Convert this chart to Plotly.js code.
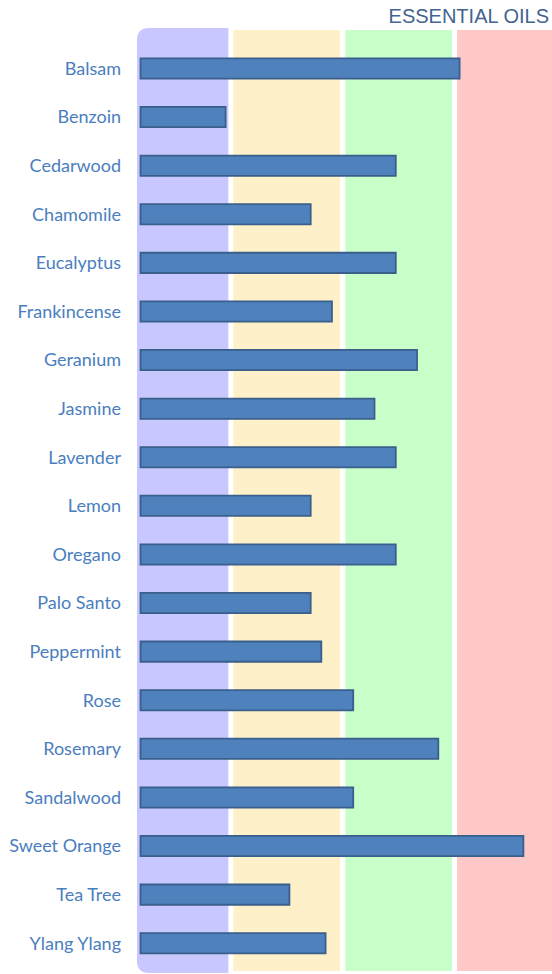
<!DOCTYPE html>
<html>
<head>
<meta charset="utf-8">
<script src="https://cdn.plot.ly/plotly-3.0.1.min.js"></script>
<style>html,body{margin:0;padding:0;background:#fff;}#chart{width:552px;height:974px;}</style>
</head>
<body>
<div id="chart"></div>
<script>
var oils = ["Balsam","Benzoin","Cedarwood","Chamomile","Eucalyptus","Frankincense","Geranium","Jasmine","Lavender","Lemon","Oregano","Palo Santo","Peppermint","Rose","Rosemary","Sandalwood","Sweet Orange","Tea Tree","Ylang Ylang"];
var scores = [15, 4, 12, 8, 12, 9, 13, 11, 12, 8, 12, 8, 8.5, 10, 14, 10, 18, 7, 8.7];
var chartTitle = "ESSENTIAL OILS";

var xMin = -0.165, xMax = 19.345;
var pxX = 21.27, plotH = 945;
var rx = 12 / pxX, ry = 12 / plotH, inset = 2 / plotH;

var bands = [
  {x0: xMin, x1: 4.13, color: "#c8c8fe", rounded: true},
  {x0: 4.365, x1: 9.38, color: "#fef0c8"},
  {x0: 9.63, x1: 14.645, color: "#c8fec8"},
  {x0: 14.88, x1: xMax, color: "#fec8c8"}
];

var shapes = bands.map(function (b) {
  if (b.rounded) {
    var p = "M " + (b.x0 + rx) + " 1 L " + b.x1 + " 1 L " + b.x1 + " 0 L " + (b.x0 + rx) + " 0 Q " + b.x0 + " 0 " + b.x0 + " " + ry +
            " L " + b.x0 + " " + (1 - ry) + " Q " + b.x0 + " 1 " + (b.x0 + rx) + " 1 Z";
    return {type: "path", xref: "x", yref: "paper", path: p, fillcolor: b.color, line: {width: 0}, layer: "below"};
  }
  return {type: "rect", xref: "x", yref: "paper", x0: b.x0, x1: b.x1, y0: inset, y1: 1 - inset,
          fillcolor: b.color, line: {width: 0}, layer: "below"};
});

var trace = {
  type: "bar",
  orientation: "h",
  x: scores,
  y: oils,
  width: 0.4167,
  marker: {color: "#4f81bd", line: {color: "#3a5f8c", width: 1.8}},
  hoverinfo: "x+y"
};

var layout = {
  width: 552, height: 974,
  margin: {l: 137, r: 0, t: 28, b: 1, pad: 0},
  paper_bgcolor: "#ffffff",
  plot_bgcolor: "rgba(0,0,0,0)",
  showlegend: false,
  title: {
    text: chartTitle,
    xref: "container", x: 549 / 552, xanchor: "right",
    yref: "container", y: 1 - 15.5 / 974, yanchor: "middle",
    font: {family: "Liberation Sans, Arial, sans-serif", size: 20, color: "#44648f"}
  },
  xaxis: {range: [xMin, xMax], showgrid: false, zeroline: false, showticklabels: false, showline: false, fixedrange: true},
  yaxis: {
    type: "category", range: [18.613, -0.833], showgrid: false, zeroline: false, showline: false,
    ticks: "", ticklabelstandoff: 15,
    tickfont: {family: "Lato, sans-serif", size: 18, color: "#4a7ebe"}
  },
  shapes: shapes
};

Plotly.newPlot("chart", [trace], layout, {displayModeBar: false, staticPlot: true});
</script>
</body>
</html>
